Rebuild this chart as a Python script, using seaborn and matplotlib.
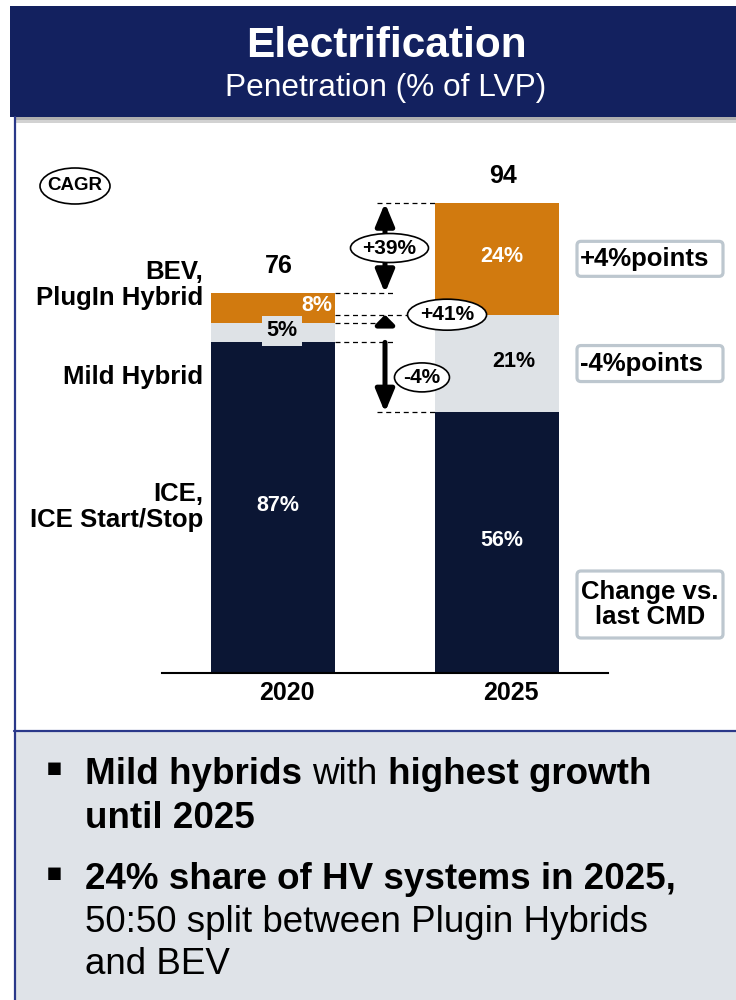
import numpy as np
import pandas as pd
import matplotlib
matplotlib.use("Agg")
import matplotlib.pyplot as plt
import matplotlib.patches as mpatches
import matplotlib.transforms as mtransforms
from matplotlib.lines import Line2D
import seaborn as sns

# ---------------- data ----------------
years = ["2020", "2025"]
totals = [76, 94]
share_ice = [87, 56]
share_mild = [5, 21]
share_bev = [8, 24]
cagr_bev = "+39%"
cagr_mild = "+41%"
cagr_ice = "-4%"
change_bev = "+4%points"
change_mild = "-4%points"
change_title = "Change vs.\nlast CMD"
row_labels = ["BEV,\nPlugIn Hybrid", "Mild Hybrid", "ICE,\nICE Start/Stop"]
title = "Electrification"
subtitle = "Penetration (% of LVP)"

# ---------------- style ----------------
sns.set_style("white")
plt.rcParams['font.family'] = ['Liberation Sans', 'DejaVu Sans']
plt.rcParams['text.color'] = 'black'
plt.rcParams['axes.labelcolor'] = 'black'
plt.rcParams['xtick.color'] = 'black'
plt.rcParams['xtick.labelcolor'] = 'black'

NAVY = "#13215F"
DARK = "#0B1634"
ORANGE = "#D17A0F"
LIGHT = "#DEE2E6"
PANEL = "#DFE3E8"
BORDER = "#2A3889"
BOXEDGE = "#BDC7CF"

W, H = 736, 1000
DPI = 100
PT = 72 / DPI  # points per pixel

fig = plt.figure(figsize=(W / DPI, H / DPI), dpi=DPI)
fig.patch.set_facecolor("white")


def fx(x):
    return x / W


def fy(y):
    return 1 - y / H


def frect(x0, y0, x1, y1, **kw):
    r = mpatches.Rectangle((fx(x0), fy(y1)), (x1 - x0) / W, (y1 - y0) / H,
                           transform=fig.transFigure, **kw)
    fig.add_artist(r)
    return r


# header band + shadow
frect(10, 6, 736, 117, facecolor=NAVY, edgecolor="none", zorder=0)
frect(14, 117, 736, 120, facecolor="#8E8E8E", edgecolor="none", alpha=0.7, zorder=0)
frect(14, 120, 736, 123, facecolor="#D2D2D2", edgecolor="none", zorder=0)
# bottom panel
frect(14, 731, 736, 1000, facecolor=PANEL, edgecolor="none", zorder=0)
fig.add_artist(Line2D([fx(14.5), fx(14.5)], [fy(117), fy(1000)], color=BORDER, lw=1.6,
                      transform=fig.transFigure))
fig.add_artist(Line2D([fx(14), fx(736)], [fy(731), fy(731)], color=BORDER, lw=1.6,
                      transform=fig.transFigure))

fig.text(fx(386), fy(46), title, ha="center", va="center", color="white",
         fontsize=30.5, fontweight="bold")
fig.text(fx(386), fy(88), subtitle, ha="center", va="center", color="white",
         fontsize=22.8)

# ---------------- chart axes ----------------
ax = fig.add_axes([fx(162), fy(673), 446 / W, 500 / H])
ax.set_facecolor("none")

shares = np.array([share_ice, share_mild, share_bev], dtype=float)
tot = np.array(totals, dtype=float)
heights = shares / shares.sum(axis=0) * tot
cum = np.cumsum(heights, axis=0)  # rows: ICE top, Mild top, BEV top

df = pd.DataFrame({"year": years, "ice_top": cum[0], "mild_top": cum[1], "bev_top": cum[2]})
bw = 124 / 224
for col, c in [("bev_top", ORANGE), ("mild_top", LIGHT), ("ice_top", DARK)]:
    sns.barplot(data=df, x="year", y=col, order=years, color=c, width=bw, saturation=1,
                errorbar=None, edgecolor="none", linewidth=0, ax=ax)

ax.set_xlim(-0.4955, 1.4955)
ax.set_ylim(0, 100)
ax.set_xlabel("")
ax.set_ylabel("")
ax.set_yticks([])
for s in ["top", "left", "right"]:
    ax.spines[s].set_visible(False)
ax.spines["bottom"].set_color("black")
ax.spines["bottom"].set_linewidth(1.5)
ax.tick_params(axis="x", length=0, pad=6, labelsize=18, labelcolor="black")
shift = mtransforms.ScaledTranslation(14 / DPI, 0, fig.dpi_scale_trans)
for lbl in ax.get_xticklabels():
    lbl.set_fontweight("bold")
    lbl.set_color("black")
    lbl.set_transform(lbl.get_transform() + shift)

# totals above bars
for i in range(2):
    ax.annotate(str(totals[i]), (i, cum[2][i]), xytext=(6 * PT, 27 * PT),
                textcoords="offset points", ha="center", va="center",
                fontsize=18, fontweight="bold", annotation_clip=False)

FS_IN = 15.5
# ICE labels
for i in range(2):
    ax.annotate(f"{share_ice[i]}%", (i, heights[0][i] / 2), xytext=(5 * PT, 2 * PT),
                textcoords="offset points", ha="center", va="center",
                color="white", fontsize=FS_IN, fontweight="bold")
# Mild labels
ax.annotate(f"{share_mild[0]}%", (0, (cum[0][0] + cum[1][0]) / 2), xytext=(9 * PT, 2 * PT),
            textcoords="offset points", ha="center", va="center", color="black",
            fontsize=FS_IN, fontweight="bold", zorder=4,
            bbox=dict(boxstyle="square,pad=0.2", fc=LIGHT, ec="none"))
ax.annotate(f"{share_mild[1]}%", (1, (cum[0][1] + cum[1][1]) / 2), xytext=(17 * PT, 2 * PT),
            textcoords="offset points", ha="center", va="center", color="black",
            fontsize=FS_IN, fontweight="bold")
# BEV labels
ax.annotate(f"{share_bev[0]}%", (0 + bw / 2, (cum[1][0] + cum[2][0]) / 2), xytext=(-3 * PT, 3 * PT),
            textcoords="offset points", ha="right", va="center", color="white",
            fontsize=FS_IN, fontweight="bold", zorder=5)
ax.annotate(f"{share_bev[1]}%", (1, (cum[1][1] + cum[2][1]) / 2), xytext=(5 * PT, 2 * PT),
            textcoords="offset points", ha="center", va="center", color="white",
            fontsize=FS_IN, fontweight="bold")

# dashed guide lines
dash = dict(color="black", lw=0.9, ls=(0, (4, 3)), zorder=1, clip_on=False)
right0 = 0 + bw / 2
left1 = 1 - bw / 2
for lvl in [cum[2][0], cum[1][0], cum[0][0]]:
    ax.plot([right0, 0.545], [lvl, lvl], **dash)
for lvl in [cum[2][1], cum[0][1]]:
    ax.plot([0.464, left1], [lvl, lvl], **dash)
ax.plot([right0, left1], [cum[1][1], cum[1][1]], **dash)


def arrow(y0, y1, style):
    length_px = abs(y1 - y0) * 5
    hl = min(13.5, 0.9 * length_px * PT)
    a = mpatches.FancyArrowPatch((0.5, y0), (0.5, y1),
                                 arrowstyle=f"{style},head_length={hl},head_width=5.6",
                                 mutation_scale=1, lw=3.6, color="black",
                                 shrinkA=0, shrinkB=0, zorder=3, clip_on=False)
    ax.add_patch(a)


arrow(cum[2][0], cum[2][1], "<|-|>")
arrow(cum[1][0], cum[1][1], "-|>")
arrow(cum[0][0], cum[0][1], "-|>")


def ellipse_label(x, y, text, w_px, h_px, fs, trans):
    tr = fig.dpi_scale_trans + mtransforms.ScaledTranslation(x, y, trans)
    e = mpatches.Ellipse((0, 0), w_px / DPI, h_px / DPI, transform=tr,
                         fc="white", ec="black", lw=1.2, zorder=6, clip_on=False)
    ax.add_artist(e)
    ax.text(x, y, text, transform=trans, ha="center", va="center", color="black",
            fontsize=fs, fontweight="bold", zorder=7, clip_on=False)


ellipse_label(0.52, (cum[2][0] + cum[2][1]) / 2, cagr_bev, 78, 29, 15, ax.transData)
ellipse_label(0.777, cum[1][1], cagr_mild, 79, 31, 15, ax.transData)
ellipse_label(0.665, (cum[0][0] + cum[0][1]) / 2, cagr_ice, 55, 29, 15, ax.transData)
ellipse_label(fx(75), fy(186), "CAGR", 70, 36, 13.5, fig.transFigure)

# left row labels
fig.text(fx(203), fy(285), row_labels[0], ha="right", va="center", fontsize=18.5,
         fontweight="bold", linespacing=1.1)
fig.text(fx(203), fy(377), row_labels[1], ha="right", va="center", fontsize=18.5,
         fontweight="bold")
fig.text(fx(203), fy(507), row_labels[2], ha="right", va="center", fontsize=18.5,
         fontweight="bold", linespacing=1.1)


# change boxes (anchored to 2025 segments)
def seg_px(val):
    return H - ax.transData.transform((1, val))[1]


def change_box(yc, h, text, left_text=True):
    box = mpatches.FancyBboxPatch((577 / DPI, (H - (yc + h / 2)) / DPI), 146 / DPI, h / DPI,
                                  boxstyle="round,pad=0,rounding_size=0.04",
                                  transform=fig.dpi_scale_trans, fc="white",
                                  ec=BOXEDGE, lw=2.3, zorder=2)
    fig.add_artist(box)
    if left_text:
        fig.text(fx(580), fy(yc), text, ha="left", va="center", fontsize=18.5,
                 fontweight="bold", zorder=3)
    else:
        fig.text(fx(650), fy(yc), text, ha="center", va="center", fontsize=18.5,
                 fontweight="bold", linespacing=1.05, zorder=3)


change_box(seg_px((cum[1][1] + cum[2][1]) / 2), 35, change_bev)
change_box(seg_px((cum[0][1] + cum[1][1]) / 2), 36, change_mild)
change_box(604.5, 67, change_title, left_text=False)

# ---------------- bottom bullet text ----------------
renderer = fig.canvas.get_renderer()
FSB = 26.5


def measure(txt, weight):
    t = fig.text(0, 0, txt, fontsize=FSB, fontweight=weight)
    w = t.get_window_extent(renderer).width
    t.remove()
    return w


space_w = {wt: measure("n n", wt) - measure("nn", wt) for wt in ["bold", "normal"]}


def run_line(x0, ybase, runs):
    x = x0
    for txt, weight in runs:
        t = fig.text(fx(x), fy(ybase), txt, fontsize=FSB, fontweight=weight,
                     ha="left", va="baseline")
        x += t.get_window_extent(renderer).width + space_w[weight]


lines = [
    (784, [("Mild hybrids", "bold"), ("with", "normal"), ("highest growth", "bold")]),
    (828, [("until 2025", "bold")]),
    (889, [("24% share of HV systems in 2025,", "bold")]),
    (932, [("50:50 split between Plugin Hybrids", "normal")]),
    (974, [("and BEV", "normal")]),
]
for yb, runs in lines:
    run_line(85, yb, runs)

for yb in [784, 889]:
    fig.text(fx(54), fy(yb - 9), "▪", ha="center", va="baseline", fontsize=18,
             family=["DejaVu Sans"])

fig.savefig("out.png", dpi=DPI, facecolor="white")
